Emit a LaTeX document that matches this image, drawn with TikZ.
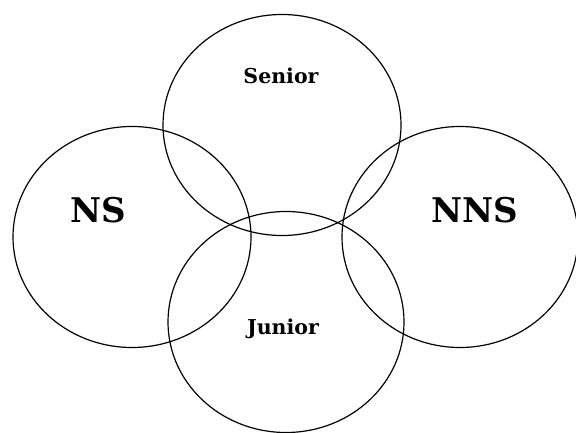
\documentclass[tikz,border=0pt]{standalone}
\usepackage{fontspec}
\setmainfont{DejaVu Serif}
\usepackage{tikz}
\usetikzlibrary{shapes.geometric}

\tikzset{
  group/.style={ellipse,draw,line width=1.2pt,inner sep=0pt,minimum width=238pt,minimum height=221pt},
  biglabel/.style={font=\bfseries\fontsize{34}{37}\selectfont},
  smalllabel/.style={font=\bfseries\fontsize{20.5}{23}\selectfont}
}

\begin{document}
\begin{tikzpicture}[x=1pt,y=-1pt]
  \useasboundingbox (0,0) rectangle (576,433);
  \node[group] (senior) at (282,125) {};
  \node[group] (ns) at (132,237) {};
  \node[group,minimum width=236pt] (nns) at (460,237) {};
  \node[group,minimum width=236pt] (junior) at (286,322) {};
  \node[smalllabel] (seniortext) at (281,76) {Senior};
  \node[biglabel] (nstext) at (98,210) {NS};
  \node[biglabel] (nnstext) at (475,210) {NNS};
  \node[smalllabel] (juniortext) at (283,329) {Junior};
\end{tikzpicture}
\end{document}
